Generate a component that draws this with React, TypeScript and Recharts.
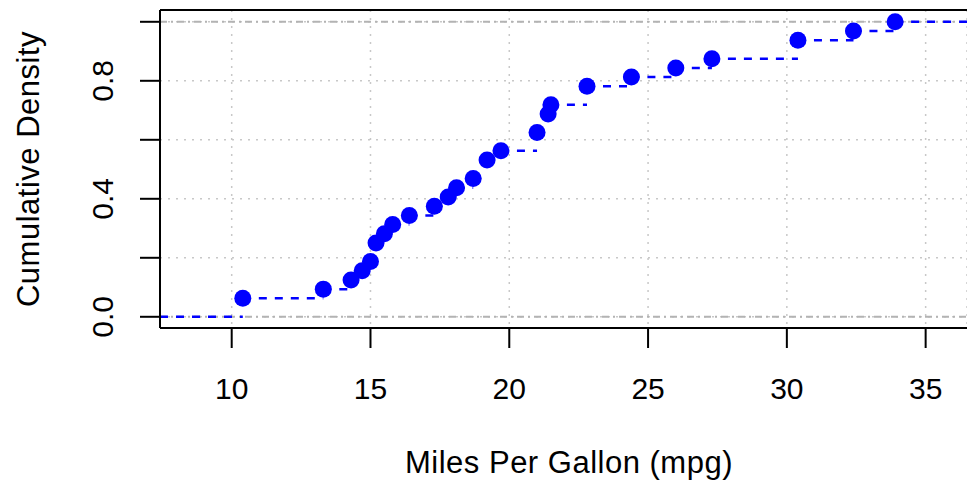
import React from 'react';
import { ComposedChart, Line, Scatter, XAxis, YAxis, CartesianGrid, ReferenceLine, Label } from 'recharts';

// ecdf of mpg: unique values and cumulative density at each
const mpgValues = [10.4, 13.3, 14.3, 14.7, 15.0, 15.2, 15.5, 15.8, 16.4, 17.3, 17.8, 18.1, 18.7, 19.2, 19.7, 21.0, 21.4, 21.5, 22.8, 24.4, 26.0, 27.3, 30.4, 32.4, 33.9];
const cumDensity = [0.0625, 0.09375, 0.125, 0.15625, 0.1875, 0.25, 0.28125, 0.3125, 0.34375, 0.375, 0.40625, 0.4375, 0.46875, 0.53125, 0.5625, 0.625, 0.6875, 0.71875, 0.78125, 0.8125, 0.84375, 0.875, 0.9375, 0.96875, 1.0];
const xTicks = [10, 15, 20, 25, 30, 35];
const yTicks = [0, 0.2, 0.4, 0.6, 0.8, 1.0];
const yLabelled = [0, 0.4, 0.8];

const X_MIN = 7.417;
const X_MAX = 36.49;
const Y_MIN = -0.038;
const Y_MAX = 1.04;

const FONT = '"Liberation Sans", Arial, sans-serif';

const points = mpgValues.map((x, i) => ({ x, y: cumDensity[i] }));

// horizontal steps, broken by null gaps
const steps: { x: number; y: number | null }[] = [
  { x: X_MIN, y: 0 },
  { x: mpgValues[0], y: 0 },
  { x: mpgValues[0], y: null },
];
mpgValues.forEach((x, i) => {
  const next = i + 1 < mpgValues.length ? mpgValues[i + 1] : X_MAX;
  steps.push({ x, y: cumDensity[i] }, { x: next, y: cumDensity[i] }, { x: next, y: null });
});

const XTick = (props: any) => (
  <text x={props.x} y={388} textAnchor="middle" dominantBaseline="central" fontSize={30} fontFamily={FONT} fill="#000">
    {props.payload.value}
  </text>
);

const YTick = (props: any) => {
  const v = props.payload.value;
  if (!yLabelled.some((t) => Math.abs(t - v) < 1e-9)) return <g />;
  return (
    <text x={103} y={props.y} transform={`rotate(-90, 103, ${props.y})`} textAnchor="middle" dominantBaseline="central" fontSize={30} fontFamily={FONT} fill="#000">
      {v.toFixed(1)}
    </text>
  );
};

export default function App() {
  return (
    <div style={{ position: 'absolute', left: 0, top: 0, background: '#fff' }}>
      <ComposedChart width={967} height={483} margin={{ top: 10, right: 0, left: 0, bottom: 0 }}>
        <CartesianGrid stroke="#c8c8c8" strokeDasharray="2 6" strokeWidth={1.5} />
        <XAxis
          type="number"
          dataKey="x"
          domain={[X_MIN, X_MAX]}
          ticks={xTicks}
          allowDataOverflow
          height={155}
          tickSize={20}
          axisLine={{ stroke: '#000', strokeWidth: 2 }}
          tickLine={{ stroke: '#000', strokeWidth: 2 }}
          tick={<XTick />}
        >
          <Label
            content={() => (
              <text x={569} y={462} textAnchor="middle" dominantBaseline="central" fontSize={31} letterSpacing={0.5} fontFamily={FONT} fill="#000">
                Miles Per Gallon (mpg)
              </text>
            )}
          />
        </XAxis>
        <YAxis
          type="number"
          dataKey="y"
          domain={[Y_MIN, Y_MAX]}
          ticks={yTicks}
          allowDataOverflow
          width={160}
          tickSize={20}
          axisLine={{ stroke: '#000', strokeWidth: 2 }}
          tickLine={{ stroke: '#000', strokeWidth: 2 }}
          tick={<YTick />}
        >
          <Label
            content={() => (
              <text x={28} y={169} transform="rotate(-90, 28, 169)" textAnchor="middle" dominantBaseline="central" fontSize={31} letterSpacing={0.5} fontFamily={FONT} fill="#000">
                Cumulative Density
              </text>
            )}
          />
        </YAxis>
        <ReferenceLine y={0} stroke="#b3b3b3" strokeWidth={2} strokeDasharray="7 4 2 4" />
        <ReferenceLine y={1} stroke="#b3b3b3" strokeWidth={2} strokeDasharray="7 4 2 4" />
        <ReferenceLine y={Y_MAX} stroke="#000" strokeWidth={2} />
        <Line
          data={steps}
          dataKey="y"
          stroke="#0000ff"
          strokeWidth={2.5}
          strokeDasharray="8 8"
          dot={false}
          activeDot={false}
          connectNulls={false}
          isAnimationActive={false}
        />
        <Scatter
          data={points}
          dataKey="y"
          fill="#0000ff"
          isAnimationActive={false}
          shape={(p: any) => <circle cx={p.cx} cy={p.cy} r={8.5} fill="#0000ff" />}
        />
      </ComposedChart>
    </div>
  );
}
